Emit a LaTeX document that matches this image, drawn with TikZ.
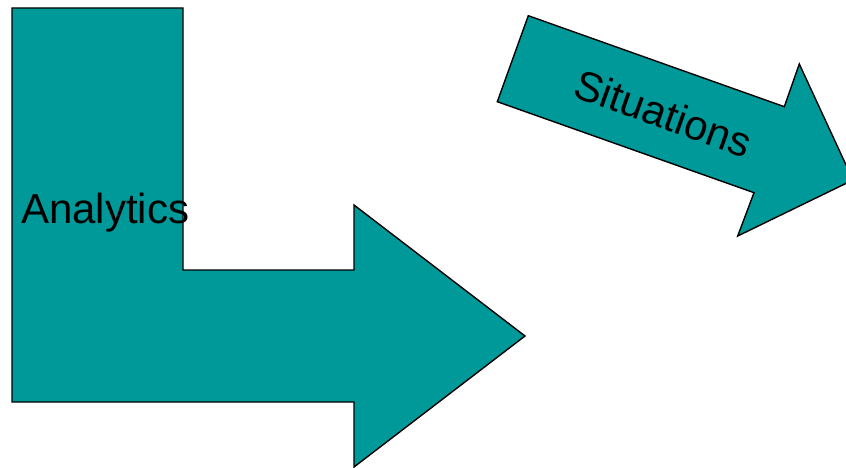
\documentclass[tikz,border=0pt]{standalone}
\usepackage{fontspec}
\setmainfont{Liberation Sans}
\definecolor{teal1}{RGB}{0,153,153}
\begin{document}
\begin{tikzpicture}[x=1pt,y=-1pt,
  shapestyle/.style={fill=teal1,draw=black,line width=1.4pt,line join=miter},
  labelstyle/.style={inner sep=0pt,font=\fontsize{42}{50}\selectfont,text=black}]
\useasboundingbox (0,0) rectangle (846,468);
\clip (0,0) rectangle (846,468);
% L-shaped arrow
\draw[shapestyle] (12,8) -- (183,8) -- (183,270) -- (354,270) -- (354,205)
  -- (525,336) -- (354,467) -- (354,402) -- (12,402) -- cycle;
% Situations arrow
\draw[shapestyle] (528.3,15.7) -- (784.3,106.7) -- (799.3,64) -- (853,180)
  -- (737.7,236) -- (754,192.7) -- (497.3,101.7) -- cycle;
\node[labelstyle,anchor=base west] (analytics) at (21,223) {Analytics};
\node[labelstyle,rotate=-19.6] (situations) at (663,113) {Situations};
\end{tikzpicture}
\end{document}
